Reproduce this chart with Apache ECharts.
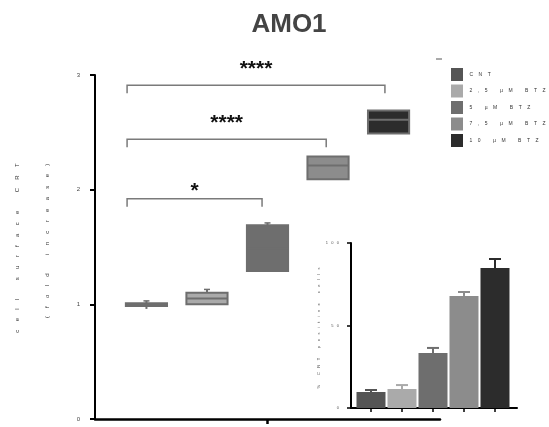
<!DOCTYPE html>
<html>
<head>
<meta charset="utf-8">
<script src="https://cdn.jsdelivr.net/npm/echarts@6/dist/echarts.min.js"></script>
<style>
  html, body { margin: 0; padding: 0; background: #fff; }
  #chart { width: 549px; height: 427px; }
</style>
</head>
<body>
<div id="chart"></div>
<script>
// groups / colours
var groups = ["CNT", "2,5 µM BTZ", "5 µM BTZ", "7,5 µM BTZ", "10 µM BTZ"];
var groupColors = ["#555555", "#aaaaaa", "#6e6e6e", "#8c8c8c", "#2c2c2c"];
var groupX = [1, 2, 3, 4, 5];

// main chart: floating bars (fold increase)
var boxLow = [0.985, 1.0, 1.29, 2.09, 2.49];
var boxHigh = [1.01, 1.1, 1.69, 2.29, 2.69];
var boxMid = [1.0, 1.05, 1.49, 2.21, 2.61];
var whiskLow = [0.96, null, null, null, null];
var whiskHigh = [1.03, 1.13, 1.71, null, null];

// significance brackets
var brX1 = [0.68, 0.68, 0.68];
var brX2 = [2.91, 3.97, 4.94];
var brY = [1.92, 2.44, 2.91];
var brLabelY = [2.03, 2.62, 3.09];
var brLabels = ["*", "****", "****"];

// inset bar chart (%)
var insetMean = [9.7, 11.5, 33.3, 67.9, 84.8];
var insetErr = [10.9, 13.9, 36.4, 70.3, 90.3];

function spaced(s, n) {
  var gap = new Array(n + 1).join(" ");
  return s.split("").join(gap);
}

var chart = echarts.init(document.getElementById("chart"));
var edge = "#6e6e6e";

function boxItem(params, api) {
  var x = api.value(0), lo = api.value(1), hi = api.value(2), mid = api.value(3);
  var wl = api.value(4), wh = api.value(5);
  var half = 0.34;
  var p1 = api.coord([x - half, hi]);
  var p2 = api.coord([x + half, lo]);
  var c = api.coord([x, mid]);
  var kids = [
    {
      type: "rect",
      shape: { x: p1[0], y: p1[1], width: p2[0] - p1[0], height: p2[1] - p1[1] },
      style: { fill: api.visual("color"), stroke: edge, lineWidth: 2 }
    },
    { type: "line", shape: { x1: p1[0], y1: c[1], x2: p2[0], y2: c[1] }, style: { stroke: edge, lineWidth: 2 } }
  ];
  if (!isNaN(wh)) {
    var t = api.coord([x, wh]);
    kids.push({ type: "line", shape: { x1: c[0], y1: p1[1], x2: c[0], y2: t[1] }, style: { stroke: edge, lineWidth: 2 } });
    kids.push({ type: "line", shape: { x1: c[0] - 3, y1: t[1], x2: c[0] + 3, y2: t[1] }, style: { stroke: edge, lineWidth: 1.5 } });
  }
  if (!isNaN(wl)) {
    var b = api.coord([x, wl]);
    kids.push({ type: "line", shape: { x1: c[0], y1: p2[1], x2: c[0], y2: b[1] }, style: { stroke: edge, lineWidth: 2 } });
  }
  return { type: "group", children: kids };
}

function bracketItem(params, api) {
  var i = params.dataIndex;
  var a = api.coord([api.value(0), api.value(2)]);
  var b = api.coord([api.value(1), api.value(2)]);
  var drop = api.coord([api.value(0), api.value(2) - 0.07]);
  var lab = api.coord([(api.value(0) + api.value(1)) / 2, api.value(3)]);
  return {
    type: "group",
    children: [
      {
        type: "polyline",
        shape: { points: [[a[0], drop[1]], a, b, [b[0], drop[1]]] },
        style: { stroke: "#7a7a7a", lineWidth: 1.5, fill: null }
      },
      {
        type: "text",
        x: lab[0], y: lab[1] + 5,
        style: { text: brLabels[i], fill: "#111", font: "bold 21px Arial", align: "center", verticalAlign: "middle" }
      }
    ]
  };
}

function errItem(params, api) {
  var top = api.coord([api.value(0), api.value(1)]);
  var e = api.coord([api.value(0), api.value(2)]);
  var col = groupColors[params.dataIndex];
  return {
    type: "group",
    children: [
      { type: "line", shape: { x1: top[0], y1: top[1], x2: e[0], y2: e[1] }, style: { stroke: col, lineWidth: 2 } },
      { type: "line", shape: { x1: e[0] - 6, y1: e[1], x2: e[0] + 6, y2: e[1] }, style: { stroke: col, lineWidth: 2 } }
    ]
  };
}

var series = groups.map(function (g, i) {
  return {
    name: g,
    type: "custom",
    xAxisIndex: 0,
    yAxisIndex: 0,
    clip: false,
    itemStyle: { color: groupColors[i] },
    renderItem: boxItem,
    data: [[groupX[i], boxLow[i], boxHigh[i], boxMid[i],
      whiskLow[i] == null ? NaN : whiskLow[i], whiskHigh[i] == null ? NaN : whiskHigh[i]]]
  };
});

series.push({
  type: "custom",
  xAxisIndex: 0,
  yAxisIndex: 0,
  clip: false,
  renderItem: bracketItem,
  data: brX1.map(function (x, i) { return [x, brX2[i], brY[i], brLabelY[i]]; })
});

series.push({
  type: "bar",
  xAxisIndex: 1,
  yAxisIndex: 1,
  barWidth: 29,
  data: insetMean.map(function (v, i) {
    return { value: [groupX[i], v], itemStyle: { color: groupColors[i] } };
  })
});

series.push({
  type: "custom",
  xAxisIndex: 1,
  yAxisIndex: 1,
  clip: false,
  renderItem: errItem,
  data: insetMean.map(function (v, i) { return [groupX[i], v, insetErr[i]]; })
});

var option = {
  animation: false,
  backgroundColor: "#fff",
  textStyle: { fontFamily: "Arial" },
  legend: {
    orient: "vertical",
    left: 446,
    top: 63,
    icon: "rect",
    itemWidth: 12,
    itemHeight: 13,
    itemGap: 3.5,
    selectedMode: false,
    data: groups,
    formatter: function (n) { return " " + spaced(n, 4); },
    textStyle: { fontSize: 5, color: "#333" }
  },
  grid: [
    { left: 95, top: 75, width: 345, height: 344 },
    { left: 351, top: 243, width: 166, height: 165 }
  ],
  xAxis: [
    {
      type: "value", gridIndex: 0, min: 0.15, max: 5.85,
      axisLine: { lineStyle: { color: "#000", width: 2.5 } },
      axisTick: { show: true, customValues: [3], length: 5, lineStyle: { color: "#000", width: 2.5 } },
      axisLabel: { show: false },
      splitLine: { show: false }
    },
    {
      type: "value", gridIndex: 1, min: 0.355, max: 5.71,
      axisLine: { lineStyle: { color: "#000", width: 2 } },
      axisTick: { show: true, customValues: groupX, length: 4, lineStyle: { color: "#000", width: 1.5 } },
      axisLabel: { show: false },
      splitLine: { show: false }
    }
  ],
  yAxis: [
    {
      type: "value", gridIndex: 0, min: 0, max: 3, interval: 1,
      axisLine: { show: true, lineStyle: { color: "#000", width: 2 } },
      axisTick: { show: true, length: 5, lineStyle: { color: "#000", width: 2 } },
      axisLabel: { fontSize: 6, color: "#444", margin: 15 },
      splitLine: { show: false }
    },
    {
      type: "value", gridIndex: 1, min: 0, max: 100, interval: 50,
      axisLine: { show: true, lineStyle: { color: "#000", width: 2 } },
      axisTick: { show: true, length: 4, lineStyle: { color: "#000", width: 1.5 } },
      axisLabel: { fontSize: 4, color: "#555", margin: 12, formatter: function (v) { return spaced(String(v), 3); } },
      splitLine: { show: false }
    }
  ],
  graphic: [
    {
      type: "text", x: 289, y: 25,
      style: { text: "AMO1", font: "bold 26px Arial", fill: "#444", align: "center", verticalAlign: "middle" }
    },
    {
      type: "text", x: 17, y: 248, rotation: Math.PI / 2,
      style: { text: spaced("cell surface CRT", 5), font: "6px Arial", fill: "#333", align: "center", verticalAlign: "middle" }
    },
    {
      type: "text", x: 47, y: 241, rotation: Math.PI / 2,
      style: { text: spaced("(fold increase)", 5), font: "6px Arial", fill: "#333", align: "center", verticalAlign: "middle" }
    },
    {
      type: "text", x: 319, y: 328, rotation: Math.PI / 2,
      style: { text: spaced("% CRT positive cells", 4), font: "4px Arial", fill: "#444", align: "center", verticalAlign: "middle" }
    },
    {
      type: "line", shape: { x1: 436, y1: 59, x2: 442, y2: 59 },
      style: { stroke: "#555", lineWidth: 1 }
    }
  ],
  series: series
};

chart.setOption(option);
</script>
</body>
</html>
